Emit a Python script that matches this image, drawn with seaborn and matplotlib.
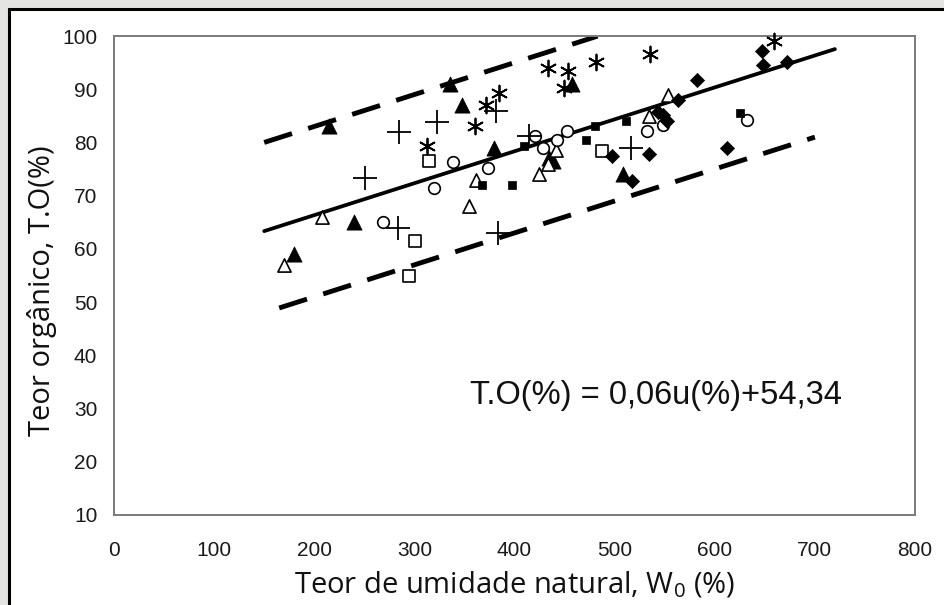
import matplotlib
matplotlib.use("Agg")
import matplotlib.pyplot as plt
import seaborn as sns
import pandas as pd
import numpy as np
from matplotlib.patches import Rectangle

# ---------------- data ----------------
tri_filled_x = [180, 215, 240, 336, 348, 380, 434, 438, 457, 508]
tri_filled_y = [59, 83, 65, 91, 87, 79, 77, 76.5, 91, 74]

tri_open_x = [170, 208, 355, 362, 424, 433, 441, 534, 553]
tri_open_y = [57, 66, 68, 73, 74, 76, 78.5, 85, 89]

circle_x = [269, 320, 339, 374, 420, 428, 442, 452, 532, 548, 632]
circle_y = [65, 71.5, 76.3, 75.2, 81.2, 79, 80.4, 82.1, 82.2, 83.2, 84.2]

square_open_x = [295, 301, 315, 487]
square_open_y = [55, 61.5, 76.5, 78.3]

square_small_x = [368, 398, 409, 471, 480, 511, 625]
square_small_y = [72, 72, 79.4, 80.5, 83, 84, 85.5]

plus_x = [251, 285, 323, 284, 382, 384, 414, 516]
plus_y = [73.3, 81.9, 83.9, 64, 86, 63, 81.2, 79]

aster_x = [313, 361, 372, 385, 433, 453, 449, 481, 535, 659]
aster_y = [79.4, 83.1, 87, 89.3, 94, 93.5, 90.3, 95.1, 96.6, 99]

diam_x = [497, 517, 534, 543, 548, 552, 563, 582, 612, 648, 647, 672]
diam_y = [77.4, 72.8, 77.9, 85.8, 85.2, 84, 88, 91.8, 79, 94.5, 97.2, 95.2]

# regression T.O(%) = 0,06u(%) + 54,34 and its dashed bounds
reg_slope = 0.06
reg_intercept = 54.34
reg_range = [150, 720]
upper_intercept = 71.0
upper_range = [150, 483]
lower_intercept = 39.0
lower_range = [165, 700]

x_ticks = [0, 100, 200, 300, 400, 500, 600, 700, 800]
y_ticks = [10, 20, 30, 40, 50, 60, 70, 80, 90, 100]

equation_text = "T.O(%) = 0,06u(%)+54,34"
x_label = "Teor de umidade natural, W$_0$ (%)"
y_label = "Teor orgânico, T.O(%)"

# ---------------- style ----------------
sns.set_theme(style="white")
plt.rcParams["font.family"] = ["Liberation Sans", "DejaVu Sans"]
plt.rcParams["mathtext.fontset"] = "custom"
plt.rcParams["mathtext.rm"] = "Open Sans"
plt.rcParams["mathtext.it"] = "Open Sans"

fig = plt.figure(figsize=(9.45, 6.05), dpi=100, facecolor="#e4e5e3")
# white panel with black frame (behind the axes)
fig.patches.append(Rectangle((9 / 945, -0.05), 1.2, 1 - 9 / 605 + 0.05,
                             transform=fig.transFigure, facecolor="white",
                             edgecolor="black", linewidth=2.2, zorder=-10))
ax = fig.add_axes([114 / 945, 1 - 515 / 605, 801 / 945, 479 / 605])
ax.set_zorder(1)
ax.set_facecolor("white")

# lines
def line_df(rng, intercept):
    xs = np.array(rng, dtype=float)
    return pd.DataFrame({"x": xs, "y": reg_slope * xs + intercept})

d = line_df(reg_range, reg_intercept)
sns.lineplot(data=d, x="x", y="y", color="black", linewidth=2.7, ax=ax, zorder=2)
d = line_df(upper_range, upper_intercept)
sns.lineplot(data=d, x="x", y="y", color="black", linewidth=3.5,
             linestyle=(0, (6.0, 3.5)), ax=ax, zorder=2)
d = line_df(lower_range, lower_intercept)
sns.lineplot(data=d, x="x", y="y", color="black", linewidth=3.5,
             linestyle=(0, (6.0, 3.5)), ax=ax, zorder=2)

# markers
def scat(xs, ys, **kw):
    df = pd.DataFrame({"x": xs, "y": ys})
    sns.scatterplot(data=df, x="x", y="y", ax=ax, zorder=3, legend=False,
                    clip_on=False, **kw)

scat(tri_filled_x, tri_filled_y, marker="^", s=120, facecolor="black",
     edgecolor="black", linewidth=0.5)
scat(tri_open_x, tri_open_y, marker="^", s=90, facecolor="white",
     edgecolor="black", linewidth=1.2)
scat(circle_x, circle_y, marker="o", s=70, facecolor="white",
     edgecolor="black", linewidth=1.2)
scat(square_open_x, square_open_y, marker="s", s=70, facecolor="white",
     edgecolor="black", linewidth=1.2)
scat(square_small_x, square_small_y, marker="s", s=28, facecolor="black",
     edgecolor="black", linewidth=0.5)
scat(plus_x, plus_y, marker="+", s=300, color="black", linewidth=1.3)
scat(aster_x, aster_y, marker=(6, 2, 0), s=130, color="black", linewidth=1.3)
scat(diam_x, diam_y, marker="D", s=52, facecolor="black",
     edgecolor="black", linewidth=0.5)

# equation
ax.text(356, 32.4, equation_text, ha="left", va="center", fontsize=23.5,
        family=["Liberation Sans Narrow", "Liberation Sans", "DejaVu Sans"],
        color="#111111")

# axes
ax.set_xlim(0, 800)
ax.set_ylim(10, 100)
ax.set_xticks(x_ticks)
ax.set_yticks(y_ticks)
ax.set_xticklabels([str(v) for v in x_ticks])
ax.set_yticklabels([str(v) for v in y_ticks])
for s in ax.spines.values():
    s.set_color("#7a7a7a")
    s.set_linewidth(1.4)
    s.set_visible(True)
ax.tick_params(axis="both", direction="out", color="#6a6a6a", width=1.3,
               labelsize=15, labelcolor="#1a1a1a")
ax.tick_params(axis="x", length=5, pad=14)
ax.tick_params(axis="y", length=5, pad=7)

ax.set_xlabel(x_label, fontsize=21, family=["Open Sans", "DejaVu Sans"],
              color="#111111")
ax.set_ylabel(y_label, fontsize=21, family=["Open Sans", "DejaVu Sans"],
              color="#111111")
ax.xaxis.label.set_va("center")
ax.xaxis.set_label_coords(0.5, -0.146)
ax.yaxis.label.set_va("center")
ax.yaxis.label.set_ha("center")
ax.yaxis.set_label_coords(-0.09, 0.468)

fig.savefig("out.png", dpi=100, facecolor=fig.get_facecolor())
